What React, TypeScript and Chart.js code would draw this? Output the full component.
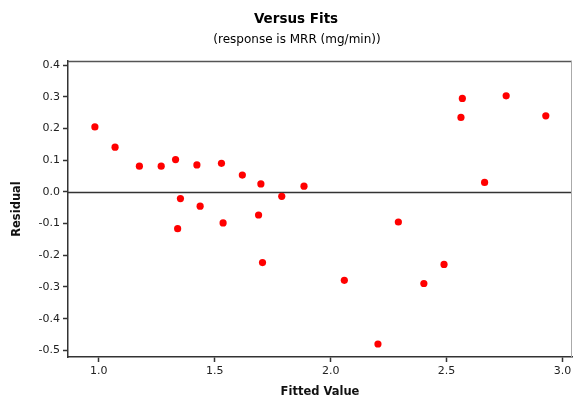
import React, { useEffect, useRef } from "react";
import { Chart, registerables } from "chart.js";

Chart.register(...registerables);

const fittedValues = [
  0.983, 1.070, 1.175, 1.269, 1.331, 1.352, 1.340, 1.423, 1.437, 1.529,
  1.536, 1.619, 1.699, 1.689, 1.706, 1.789, 1.885, 2.059, 2.204, 2.292,
  2.402, 2.489, 2.568, 2.562, 2.664, 2.757, 2.928,
];
const residuals = [
  0.205, 0.141, 0.081, 0.081, 0.102, -0.021, -0.116, 0.085, -0.045, 0.090,
  -0.098, 0.053, 0.025, -0.073, -0.223, -0.014, 0.018, -0.279, -0.480, -0.095,
  -0.289, -0.229, 0.295, 0.235, 0.030, 0.303, 0.240,
];
const xTickValues = [1.0, 1.5, 2.0, 2.5, 3.0];
const yTickValues = [0.4, 0.3, 0.2, 0.1, 0.0, -0.1, -0.2, -0.3, -0.4, -0.5];
const titleText = "Versus Fits";
const subtitleText = "(response is MRR (mg/min))";
const xTitle = "Fitted Value";
const yTitle = "Residual";

const FONT = "'DejaVu Sans', Verdana, sans-serif";

const framePlugin = {
  id: "framePlugin",
  beforeDatasetsDraw(chart: any) {
    const { ctx, chartArea, scales } = chart;
    ctx.save();
    // zero reference line
    const y0 = Math.round(scales.y.getPixelForValue(0)) + 0.5;
    ctx.strokeStyle = "#333";
    ctx.lineWidth = 1.5;
    ctx.beginPath();
    ctx.moveTo(chartArea.left, y0);
    ctx.lineTo(chartArea.right, y0);
    ctx.stroke();
    // top frame
    ctx.strokeStyle = "#555";
    ctx.lineWidth = 1.5;
    ctx.beginPath();
    ctx.moveTo(chartArea.left, chartArea.top + 0.5);
    ctx.lineTo(chartArea.right, chartArea.top + 0.5);
    ctx.stroke();
    // right frame
    ctx.strokeStyle = "#aaa";
    ctx.lineWidth = 1;
    ctx.beginPath();
    ctx.moveTo(chartArea.right - 0.5, chartArea.top);
    ctx.lineTo(chartArea.right - 0.5, chartArea.bottom);
    ctx.stroke();
    ctx.restore();
  },
  afterDraw(chart: any) {
    const { ctx } = chart;
    ctx.save();
    ctx.fillStyle = "#000";
    ctx.textAlign = "center";
    ctx.textBaseline = "middle";
    ctx.font = `bold 13.5px ${FONT}`;
    ctx.fillText(titleText, 296, 19);
    ctx.font = `12px ${FONT}`;
    ctx.fillText(subtitleText, 297, 40);
    ctx.restore();
  },
};

export default function App() {
  const ref = useRef<HTMLCanvasElement | null>(null);
  useEffect(() => {
    if (!ref.current) return;
    const chart = new Chart(ref.current, {
      type: "scatter",
      data: {
        datasets: [
          {
            data: fittedValues.map((x, i) => ({ x, y: residuals[i] })),
            backgroundColor: "#ff0000",
            borderColor: "#ff0000",
            pointStyle: "circle",
            pointRadius: 3.6,
            borderWidth: 0,
          },
        ],
      },
      options: {
        animation: false,
        responsive: false,
        maintainAspectRatio: false,
        layout: { padding: { top: 61, left: 0, right: 1, bottom: 0 } },
        plugins: { legend: { display: false }, tooltip: { enabled: false }, title: { display: false } },
        scales: {
          x: {
            type: "linear",
            min: 0.867,
            max: 3.041,
            afterBuildTicks: (s: any) => {
              s.ticks = xTickValues.map((v) => ({ value: v }));
            },
            afterFit: (s: any) => {
              s.height = 43;
            },
            ticks: {
              autoSkip: false,
              maxRotation: 0,
              padding: 3,
              color: "#222",
              font: { family: FONT, size: 11 },
              callback: (v: any) => Number(v).toFixed(1),
            },
            grid: { drawOnChartArea: false, tickLength: 5, tickColor: "#333", tickWidth: 1.5 },
            border: { color: "#333", width: 1.5 },
            title: {
              display: true,
              text: xTitle,
              color: "#111",
              font: { family: FONT, size: 11.5, weight: "bold" },
              padding: { top: 0, bottom: 1 },
            },
          },
          y: {
            type: "linear",
            min: -0.521,
            max: 0.413,
            afterBuildTicks: (s: any) => {
              s.ticks = yTickValues.map((v) => ({ value: v }));
            },
            afterFit: (s: any) => {
              s.width = 68;
            },
            ticks: {
              autoSkip: false,
              padding: 3,
              color: "#222",
              font: { family: FONT, size: 11 },
              callback: (v: any) => Number(v).toFixed(1),
            },
            grid: { drawOnChartArea: false, tickLength: 5, tickColor: "#333", tickWidth: 1.5 },
            border: { color: "#333", width: 1.5 },
            title: {
              display: true,
              text: yTitle,
              color: "#111",
              font: { family: FONT, size: 11.5, weight: "bold" },
              padding: { top: 10, bottom: 0 },
            },
          },
        },
      },
      plugins: [framePlugin],
    });
    return () => chart.destroy();
  }, []);
  return (
    <div style={{ position: "absolute", left: 0, top: 0, width: 576, height: 400, background: "#fff" }}>
      <canvas ref={ref} width={576} height={400} style={{ display: "block" }} />
    </div>
  );
}
